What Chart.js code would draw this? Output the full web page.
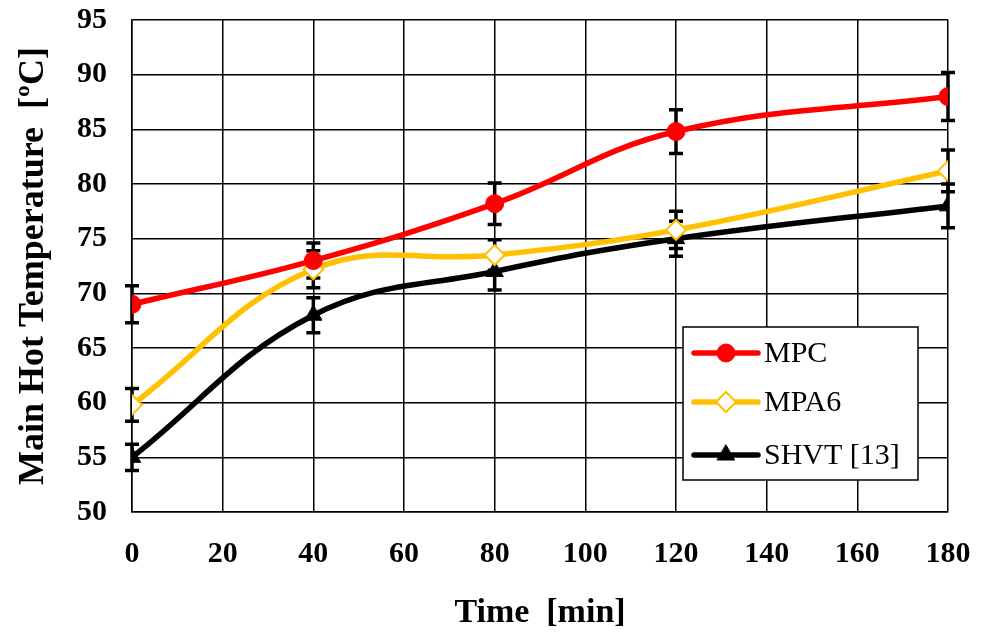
<!DOCTYPE html>
<html>
<head>
<meta charset="utf-8">
<script src="https://cdn.jsdelivr.net/npm/chart.js@4"></script>
<style>
  body { margin: 0; background: #fff; }
  #wrap { width: 984px; height: 634px; }
</style>
</head>
<body>
<div id="wrap"><canvas id="myChart" width="984" height="634"></canvas></div>
<script>
var times = [0, 40, 80, 120, 180];
var seriesNames = ["MPC", "MPA6", "SHVT [13]"];
var mpc = [69, 73, 78.2, 84.8, 88];
var mpa6 = [59.8, 72.2, 73.5, 75.8, 81.2];
var shvt = [55, 68, 72, 75, 78];
var mpcErr = [1.7, 1.6, 1.9, 2.0, 2.2];
var mpa6Err = [1.5, 1.7, 1.4, 1.7, 1.9];
var shvtErr = [1.2, 1.6, 1.7, 1.6, 2.0];
var xTicks = [0, 20, 40, 60, 80, 100, 120, 140, 160, 180];
var yTicks = [50, 55, 60, 65, 70, 75, 80, 85, 90, 95];

function pts(vals) {
  var out = [];
  for (var i = 0; i < times.length; i++) {
    out.push({ x: times[i], y: vals[i] });
  }
  return out;
}

var errs = [mpcErr, mpa6Err, shvtErr];
var serif = "'Liberation Serif', 'Times New Roman', serif";

// error bars drawn through the chart's own scales
var errorBars = {
  id: 'errorBars',
  beforeDatasetsDraw: function(chart) {
    var c = chart.ctx, xs = chart.scales.x, ys = chart.scales.y;
    c.save();
    c.strokeStyle = '#000';
    c.lineWidth = 3.5;
    chart.data.datasets.forEach(function(ds, d) {
      ds.data.forEach(function(p, i) {
        var px = xs.getPixelForValue(p.x);
        var top = ys.getPixelForValue(p.y + errs[d][i]);
        var bot = ys.getPixelForValue(p.y - errs[d][i]);
        c.beginPath();
        c.moveTo(px, top); c.lineTo(px, bot);
        c.moveTo(px - 7, top); c.lineTo(px + 7, top);
        c.moveTo(px - 7, bot); c.lineTo(px + 7, bot);
        c.stroke();
      });
    });
    c.restore();
  }
};

function drawMarker(c, style, r, x, y) {
  if (style === 'circle') {
    c.arc(x, y, r, 0, Math.PI * 2);
  } else if (style === 'rectRot') {
    c.moveTo(x, y - r); c.lineTo(x + r, y); c.lineTo(x, y + r); c.lineTo(x - r, y); c.closePath();
  } else {
    c.moveTo(x, y - r); c.lineTo(x + r * 0.87, y + r * 0.5); c.lineTo(x - r * 0.87, y + r * 0.5); c.closePath();
  }
}

// boxed legend inside the plot
var boxLegend = {
  id: 'boxLegend',
  afterDraw: function(chart) {
    var c = chart.ctx;
    var bx = 683, by = 327, bw = 235, bh = 153;
    var rows = [353, 402, 455];
    c.save();
    c.fillStyle = '#fff';
    c.fillRect(bx, by, bw, bh);
    c.strokeStyle = '#000';
    c.lineWidth = 1.5;
    c.strokeRect(bx, by, bw, bh);
    chart.data.datasets.forEach(function(ds, d) {
      var y = rows[d];
      c.strokeStyle = ds.borderColor;
      c.lineWidth = 5.5;
      c.lineCap = 'round';
      c.beginPath();
      c.moveTo(694, y); c.lineTo(758, y);
      c.stroke();
      c.fillStyle = ds.pointBackgroundColor;
      c.strokeStyle = ds.pointBorderColor;
      c.lineWidth = ds.pointBorderWidth;
      c.beginPath();
      drawMarker(c, ds.pointStyle, ds.pointRadius, 726, y);
      c.fill();
      c.stroke();
      c.fillStyle = '#000';
      c.font = "30px " + serif;
      c.textBaseline = 'middle';
      c.textAlign = 'left';
      c.fillText(ds.label, 764, y + 1);
    });
    c.restore();
  }
};

var ctx = document.getElementById("myChart");
var myChart = new Chart(ctx, {
  type: 'line',
  data: {
    datasets: [{
      label: seriesNames[0],
      data: pts(mpc),
      borderColor: '#FF0000',
      backgroundColor: '#FF0000',
      pointStyle: 'circle',
      pointRadius: 9,
      pointBackgroundColor: '#FF0000',
      pointBorderColor: '#FF0000',
      pointBorderWidth: 1
    }, {
      label: seriesNames[1],
      data: pts(mpa6),
      borderColor: '#FFC000',
      backgroundColor: '#FFC000',
      pointStyle: 'rectRot',
      pointRadius: 10,
      pointBackgroundColor: '#FFFFFF',
      pointBorderColor: '#FFC000',
      pointBorderWidth: 2
    }, {
      label: seriesNames[2],
      data: pts(shvt),
      borderColor: '#000000',
      backgroundColor: '#000000',
      pointStyle: 'triangle',
      pointRadius: 10,
      pointBackgroundColor: '#000000',
      pointBorderColor: '#000000',
      pointBorderWidth: 1
    }]
  },
  options: {
    responsive: false,
    animation: false,
    layout: { padding: { left: 0, top: 20, right: 36, bottom: 0 } },
    elements: { line: { borderWidth: 5.5, tension: 0.4 } },
    plugins: { legend: { display: false }, tooltip: { enabled: false } },
    scales: {
      x: {
        type: 'linear',
        min: 0, max: 180,
        afterBuildTicks: function(s) { s.ticks = xTicks.map(function(v) { return { value: v }; }); },
        afterFit: function(s) { s.height = 122; s.paddingLeft = 0; s.paddingRight = 0; },
        grid: { color: '#000', lineWidth: 1.5, drawTicks: false },
        border: { color: '#000', width: 1.5 },
        ticks: { color: '#000', padding: 24, maxRotation: 0, font: { family: serif, size: 30, weight: 'bold' } },
        title: { display: true, text: 'Time  [min]', color: '#000', padding: { top: 10, bottom: 0 }, font: { family: serif, size: 34, weight: 'bold' } }
      },
      y: {
        min: 50, max: 95,
        afterBuildTicks: function(s) { s.ticks = yTicks.map(function(v) { return { value: v }; }); },
        afterFit: function(s) { s.width = 132; s.paddingTop = 0; s.paddingBottom = 0; },
        grid: { color: '#000', lineWidth: 1.5, drawTicks: false },
        border: { color: '#000', width: 1.5 },
        ticks: { color: '#000', padding: 25, font: { family: serif, size: 30, weight: 'bold' } },
        title: { display: true, text: 'Main Hot Temperature  [ºC]', color: '#000', padding: { top: 12 }, font: { family: serif, size: 36, weight: 'bold' } }
      }
    }
  },
  plugins: [errorBars, boxLegend]
});
</script>
</body>
</html>
